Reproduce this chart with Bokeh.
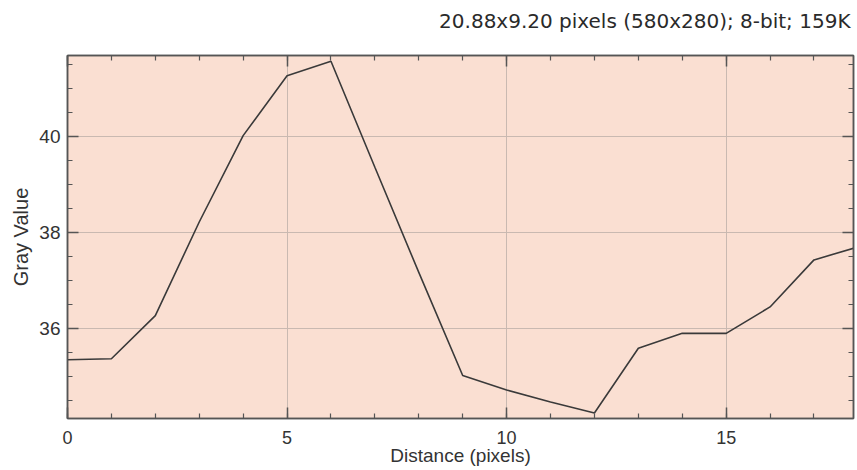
from bokeh.plotting import figure
from bokeh.layouts import column
from bokeh.models import LinearAxis, SingleIntervalTicker, Range1d, CustomLabelingPolicy, Label
from bokeh.embed import file_html
from bokeh.resources import INLINE

# data
distance = [0, 1, 2, 3, 4, 5, 6, 7, 8, 9, 10, 11, 12, 13, 14, 15, 16, 17, 18]
gray_value = [35.35, 35.37, 36.27, 38.22, 40.02, 41.27, 41.57, 39.36, 37.17, 35.02,
              34.72, 34.47, 34.24, 35.59, 35.90, 35.90, 36.45, 37.43, 37.70]
title_text = "20.88x9.20 pixels (580x280); 8-bit; 159K"
x_label = "Distance (pixels)"
y_label = "Gray Value"

TICK_FONT = "Liberation Sans"
DARK = "#333333"
FRAME = "#555555"
FW, FH = 786, 363
HEAD_H = 38

# header strip carrying the image info text (its frame lines up with the plot frame)
head = figure(frame_width=FW, frame_height=HEAD_H, output_backend="svg",
              toolbar_location=None, x_axis_type=None, y_axis_type=None,
              x_range=Range1d(0, 1), y_range=Range1d(0, 1),
              min_border_left=67, min_border_right=4, min_border_top=0,
              min_border_bottom=0, outline_line_color=None,
              background_fill_color="white", border_fill_color="white")
head.grid.visible = False
head.add_layout(Label(x=FW - 3, y=HEAD_H - 20, x_units="screen", y_units="screen",
                      text=title_text, text_align="right", text_baseline="middle",
                      text_font="DejaVu Sans", text_font_size="20px",
                      text_color="#2a2a2a"))

p = figure(frame_width=FW, frame_height=FH, output_backend="svg", toolbar_location=None,
           x_range=Range1d(0, 17.9), y_range=Range1d(34.125, 41.69),
           min_border_left=67, min_border_right=4, min_border_top=55 - HEAD_H,
           min_border_bottom=0,
           background_fill_color="#FADFD2", border_fill_color="white",
           outline_line_color=FRAME, outline_line_width=1.5)

p.line(distance, gray_value, line_color="#3a3a3a", line_width=1.6)

xt = SingleIntervalTicker(interval=5, num_minor_ticks=5)
yt = SingleIntervalTicker(interval=2, num_minor_ticks=4)

def style_axis(ax, labels=True):
    ax.axis_line_color = FRAME
    ax.axis_line_width = 1.5
    ax.major_tick_in = 11
    ax.major_tick_out = 0
    ax.minor_tick_in = 5
    ax.minor_tick_out = 0
    ax.major_tick_line_color = FRAME
    ax.minor_tick_line_color = FRAME
    ax.major_tick_line_width = 1.5
    ax.minor_tick_line_width = 1.2
    if labels:
        ax.major_label_text_font = TICK_FONT
        ax.major_label_text_color = DARK
        ax.axis_label_text_font = TICK_FONT
        ax.axis_label_text_font_style = "normal"
        ax.axis_label_text_color = DARK
    else:
        ax.major_label_policy = CustomLabelingPolicy(
            code="for (const i of indices) { indices.unset(i) }\nreturn indices")
        ax.major_label_text_font_size = "0px"
        ax.major_label_standoff = 0
        ax.axis_label = None

xa = p.xaxis[0]
xa.ticker = xt
xa.axis_label = x_label
style_axis(xa)
xa.major_label_text_font_size = "18px"
xa.axis_label_text_font_size = "19px"
xa.major_label_standoff = 12
xa.axis_label_standoff = -2

ya = p.yaxis[0]
ya.ticker = yt
ya.axis_label = y_label
style_axis(ya)
ya.major_label_text_font_size = "19px"
ya.axis_label_text_font_size = "20px"
ya.major_label_standoff = 7
ya.axis_label_standoff = 4

top = LinearAxis(ticker=SingleIntervalTicker(interval=5, num_minor_ticks=5))
style_axis(top, labels=False)
p.add_layout(top, "above")
right = LinearAxis(ticker=SingleIntervalTicker(interval=2, num_minor_ticks=4))
style_axis(right, labels=False)
p.add_layout(right, "right")

p.xgrid.ticker = xt
p.ygrid.ticker = yt
for g in (p.xgrid[0], p.ygrid[0]):
    g.grid_line_color = "#C9B9B1"
    g.grid_line_width = 1

layout = column(head, p, spacing=0)
open("out.html", "w").write(file_html(layout, INLINE))
